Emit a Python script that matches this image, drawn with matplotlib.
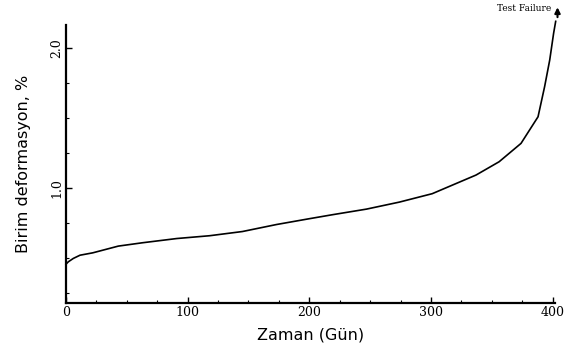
import numpy as np
import matplotlib
matplotlib.use('Agg')
import matplotlib.pyplot as plt
from matplotlib.ticker import MultipleLocator

# creep curve
days = [0, 1.9, 6, 11.5, 22, 43, 63, 91, 118, 145, 173, 199, 219, 247, 274,
        301, 324, 337, 356, 374, 388, 393.4, 397.6, 400.8, 402.5]
strain = [0.457, 0.474, 0.498, 0.521, 0.538, 0.586, 0.61, 0.64, 0.66, 0.69,
          0.74, 0.78, 0.81, 0.85, 0.90, 0.96, 1.045, 1.093, 1.188, 1.319,
          1.509, 1.724, 1.914, 2.105, 2.19]

x_ticks = [0, 100, 200, 300, 400]
x_labels = ['0', '100', '200', '300', '400']
y_ticks = [1.0, 2.0]
y_labels = ['1.0', '2.0']

fig = plt.figure(figsize=(5.77, 3.55), dpi=100)
ax = fig.add_axes([0.1144, 0.1465, 0.8476, 0.7831])

ax.plot(days, strain, color='black', lw=1.2, clip_on=False,
        solid_joinstyle='round')

ax.set_xlim(0, 402)
ax.set_ylim(0.18, 2.164)

for s in ['top', 'right']:
    ax.spines[s].set_visible(False)
for s in ['left', 'bottom']:
    ax.spines[s].set_linewidth(1.6)

ax.set_xticks(x_ticks)
ax.set_xticklabels(x_labels, fontsize=9, family='DejaVu Serif')
ax.set_yticks(y_ticks)
ax.set_yticklabels(y_labels, fontsize=9, family='DejaVu Serif',
                   rotation=90, va='center')
ax.xaxis.set_minor_locator(MultipleLocator(25))
ax.yaxis.set_minor_locator(MultipleLocator(0.25))
ax.tick_params(which='both', direction='in', color='black')
ax.tick_params(which='major', length=4, width=1.0, pad=2)
ax.tick_params(which='minor', length=2, width=0.8)

ax.set_xlabel('Zaman (Gün)', fontsize=11.5, labelpad=6)
ax.set_ylabel('Birim deformasyon, %', fontsize=11.5, labelpad=14)

ax.annotate('', xy=(404, 2.31), xytext=(404, 2.2),
            xycoords='data', annotation_clip=False,
            arrowprops=dict(arrowstyle='-|>', color='black', lw=1.5,
                            mutation_scale=8))
ax.text(399, 2.28, 'Test Failure', fontsize=6.5, family='DejaVu Serif',
        ha='right', va='center', clip_on=False)

fig.savefig('out.png', dpi=100)
